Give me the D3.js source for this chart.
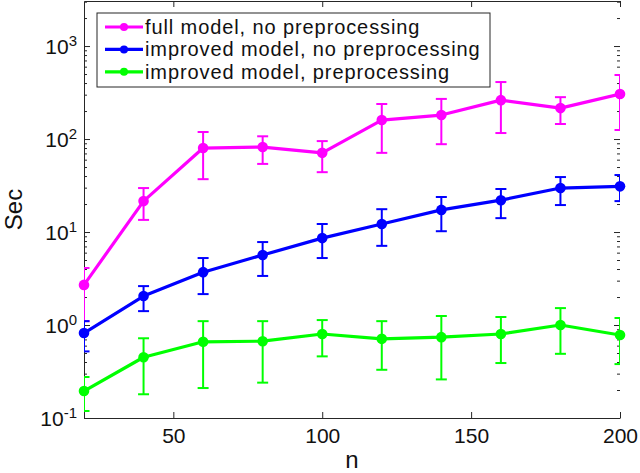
<!DOCTYPE html>
<html>
<head>
<meta charset="utf-8">
<script src="https://cdn.jsdelivr.net/npm/d3@7"></script>
<style>
  body { margin: 0; background: #fff; }
  svg { display: block; font-family: "Liberation Sans", Arial, sans-serif; }
  .axis path, .axis line { stroke: #262626; stroke-width: 1; }
  .axis text { fill: #111; font-size: 21px; }
</style>
</head>
<body>
<svg id="chart" width="640" height="473"></svg>
<script>
const nValues = [20, 40, 60, 80, 100, 120, 140, 160, 180, 200];

const fullMean = [2.7, 21.5, 80, 82, 71, 160, 181, 262, 215, 305];
const fullLo = [1.1, 13.5, 37, 54, 44, 71, 88, 116, 145, 125];
const fullHi = [4.1, 29.7, 119, 107, 95, 238, 270, 410, 282, 488];

const impMean = [0.82, 2.05, 3.7, 5.66, 8.6, 12.2, 17.3, 22, 29.7, 31];
const impLo = [0.52, 1.41, 2.15, 3.37, 5.25, 7.1, 10.2, 14.1, 19.5, 21.5];
const impHi = [1.1, 2.62, 5.25, 7.8, 12.2, 17.6, 23.8, 29, 39, 41];

const preMean = [0.195, 0.45, 0.66, 0.67, 0.8, 0.71, 0.74, 0.8, 1.0, 0.78];
const preLo = [0.119, 0.18, 0.21, 0.24, 0.46, 0.33, 0.26, 0.39, 0.49, 0.38];
const preHi = [0.276, 0.72, 1.1, 1.1, 1.13, 1.1, 1.25, 1.22, 1.52, 1.19];

const seriesNames = ["full model, no preprocessing", "improved model, no preprocessing", "improved model, preprocessing"];
const seriesColors = ["#ff00ff", "#0000ff", "#00ff00"];

const xTicks = [50, 100, 150, 200];
const yTicks = [0.1, 1, 10, 100, 1000];
const yExponents = ["-1", "0", "1", "2", "3"];

const series = [
  { mean: fullMean, lo: fullLo, hi: fullHi },
  { mean: impMean, lo: impLo, hi: impHi },
  { mean: preMean, lo: preLo, hi: preHi },
];

const plotLeft = 84, plotRight = 620, plotTop = 1, plotBottom = 418;
const svg = d3.select("#chart");

const x = d3.scaleLinear().domain([20, 200]).range([plotLeft, plotRight]);
const y = d3.scaleLog().domain([0.1, 3050]).range([plotBottom, plotTop]);

// minor ticks for the log axis
const minors = [];
for (let d = -1; d <= 3; d++) {
  for (let k = 2; k <= 9; k++) {
    const v = k * Math.pow(10, d);
    if (v < y.domain()[1]) minors.push(v);
  }
}

svg.append("defs").append("clipPath").attr("id", "plot-clip")
  .append("rect").attr("x", plotLeft).attr("y", plotTop)
  .attr("width", plotRight - plotLeft).attr("height", plotBottom - plotTop);

// axes
svg.append("g").attr("class", "axis").attr("transform", `translate(0,${plotBottom})`)
  .call(d3.axisBottom(x).tickValues(xTicks).tickSizeInner(-6).tickSizeOuter(0).tickPadding(10));

svg.append("g").attr("class", "axis").attr("transform", `translate(0,${plotTop})`)
  .call(d3.axisTop(x).tickValues(xTicks).tickSizeInner(-6).tickSizeOuter(0).tickFormat(""));

const yAxis = svg.append("g").attr("class", "axis").attr("transform", `translate(${plotLeft},0)`)
  .call(d3.axisLeft(y).tickValues(yTicks).tickSizeInner(-6).tickSizeOuter(0).tickPadding(7).tickFormat(""));

svg.append("g").attr("class", "axis").attr("transform", `translate(${plotLeft},0)`)
  .call(d3.axisLeft(y).tickValues(minors).tickSizeInner(-3).tickSizeOuter(0).tickFormat(""))
  .select(".domain").remove();

svg.append("g").attr("class", "axis").attr("transform", `translate(${plotRight},0)`)
  .call(d3.axisRight(y).tickValues(yTicks).tickSizeInner(-6).tickSizeOuter(0).tickFormat(""))
  .select(".domain").remove();

svg.append("g").attr("class", "axis").attr("transform", `translate(${plotRight},0)`)
  .call(d3.axisRight(y).tickValues(minors).tickSizeInner(-3).tickSizeOuter(0).tickFormat(""))
  .select(".domain").remove();

// y tick labels as 10^k
yAxis.selectAll(".tick text").each(function (d, i) {
  const t = d3.select(this).attr("dy", "0.34em").text(null);
  t.append("tspan").text("10");
  t.append("tspan").attr("dy", "-0.5em").attr("font-size", "15px").text(yExponents[i]);
});

// axis titles
svg.append("text").attr("x", (plotLeft + plotRight) / 2).attr("y", 468)
  .attr("text-anchor", "middle").attr("font-size", 24).attr("fill", "#111").text("n");
svg.append("text").attr("transform", `translate(22,${(plotTop + plotBottom) / 2}) rotate(-90)`)
  .attr("text-anchor", "middle").attr("font-size", 24).attr("fill", "#111").text("Sec");

// data
const line = d3.line().x((d, i) => x(nValues[i])).y(d => y(d));

series.forEach((s, si) => {
  const color = seriesColors[si];
  const g = svg.append("g");
  const clipped = g.append("g").attr("clip-path", "url(#plot-clip)");

  clipped.append("path").datum(s.mean)
    .attr("d", line).attr("fill", "none").attr("stroke", color).attr("stroke-width", 3.2)
    .attr("stroke-linejoin", "round");

  const bars = clipped.selectAll(".err").data(nValues).enter().append("g")
    .attr("class", "err").attr("stroke", color).attr("stroke-width", 2).attr("fill", "none");
  bars.append("line")
    .attr("x1", d => x(d)).attr("x2", d => x(d))
    .attr("y1", (d, i) => y(s.lo[i])).attr("y2", (d, i) => y(s.hi[i]));
  bars.append("line")
    .attr("x1", d => x(d) - 5.5).attr("x2", d => x(d) + 5.5)
    .attr("y1", (d, i) => y(s.lo[i])).attr("y2", (d, i) => y(s.lo[i]));
  bars.append("line")
    .attr("x1", d => x(d) - 5.5).attr("x2", d => x(d) + 5.5)
    .attr("y1", (d, i) => y(s.hi[i])).attr("y2", (d, i) => y(s.hi[i]));

  g.selectAll("circle").data(nValues).enter().append("circle")
    .attr("cx", d => x(d)).attr("cy", (d, i) => y(s.mean[i]))
    .attr("r", 5.3).attr("fill", color);
});

// legend
const legend = svg.append("g").attr("transform", "translate(97,13)");
legend.append("rect").attr("width", 393).attr("height", 74)
  .attr("fill", "#fff").attr("stroke", "#262626").attr("stroke-width", 1);
seriesNames.forEach((name, i) => {
  const row = legend.append("g").attr("transform", `translate(0,${14 + i * 22.4})`);
  row.append("line").attr("x1", 8).attr("x2", 46).attr("y1", 0).attr("y2", 0)
    .attr("stroke", seriesColors[i]).attr("stroke-width", 3.2);
  row.append("circle").attr("cx", 27).attr("cy", 0).attr("r", 4).attr("fill", seriesColors[i]);
  row.append("text").attr("x", 48).attr("y", 0).attr("dy", "0.35em")
    .attr("font-size", 20).attr("letter-spacing", "0.9px").attr("fill", "#111").text(name);
});
</script>
</body>
</html>
